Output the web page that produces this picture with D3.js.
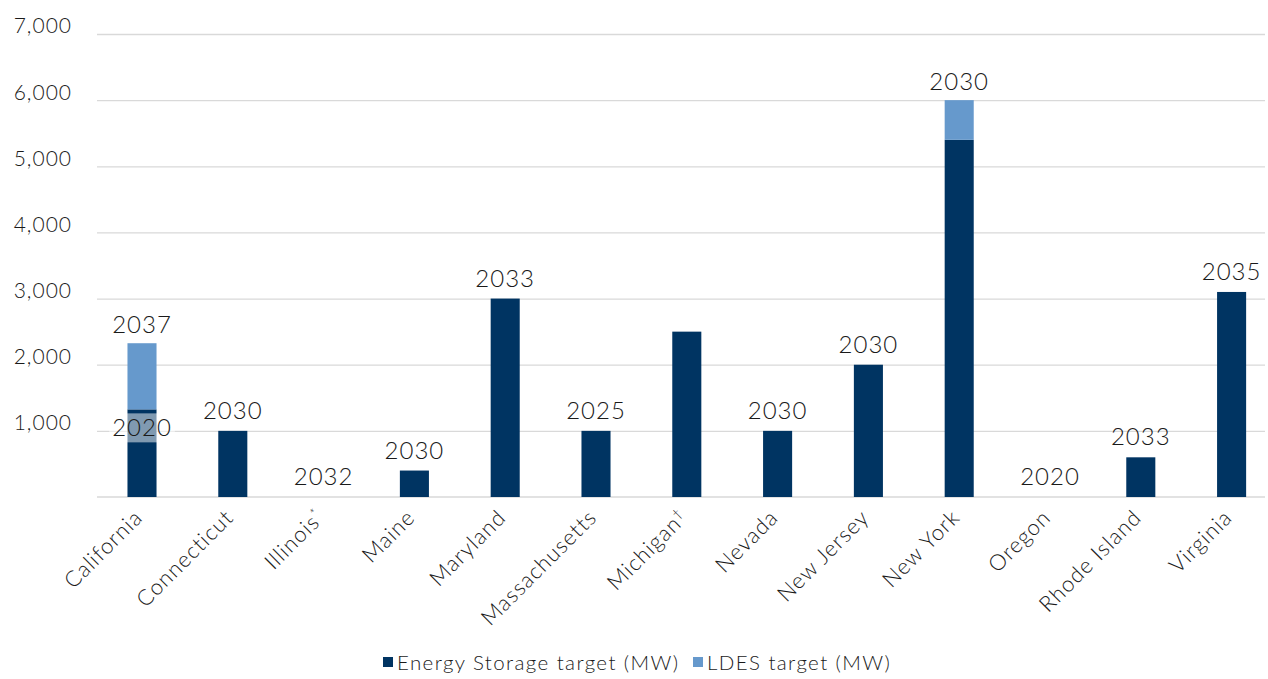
<!DOCTYPE html>
<html>
<head>
<meta charset="utf-8">
<script src="https://cdn.jsdelivr.net/npm/d3@7"></script>
<style>
  body { margin: 0; background: #fff; }
  text { font-family: Lato, "Open Sans", sans-serif; font-weight: 300; fill: #1a1a1a; }
</style>
</head>
<body>
<div id="container"></div>
<script>
/* CONSTANTS AND GLOBALS */
const width = 1268,
  height = 679,
  margin = { top: 34, bottom: 182, left: 97, right: 3 };

/* DATA */
const states = ["California", "Connecticut", "Illinois", "Maine", "Maryland", "Massachusetts",
  "Michigan", "Nevada", "New Jersey", "New York", "Oregon", "Rhode Island", "Virginia"];
const marks = ["", "", "*", "", "", "", "\u2020", "", "", "", "", "", ""];
const storageMW = [1325, 1000, 0, 400, 3000, 1000, 2500, 1000, 2000, 5400, 0, 600, 3100];
const ldesMW = [1000, 0, 0, 0, 0, 0, 0, 0, 0, 600, 0, 0, 0];
const storageYear = ["2020", "2030", "2032", "2030", "2033", "2025", "", "2030", "2030", "", "2020", "2033", "2035"];
const ldesYear = ["2037", "", "", "", "", "", "", "", "", "2030", "", "", ""];
const yTicks = [1000, 2000, 3000, 4000, 5000, 6000, 7000];
const seriesNames = ["Energy Storage target (MW)", "LDES target (MW)"];
const colors = ["#003462", "#6699cc"];

const rows = states.map((s, i) => ({
  state: s, mark: marks[i], storage: storageMW[i], ldes: ldesMW[i],
  sYear: storageYear[i], lYear: ldesYear[i]
}));

// SCALES
const xScale = d3.scaleBand()
  .domain(states)
  .range([96.6, 96.6 + 13 * 90.8])
  .paddingInner(0.68)
  .paddingOuter(0.34);

const yScale = d3.scaleLinear()
  .domain([0, 7000])
  .range([height - margin.bottom, margin.top]);

// CREATE SVG ELEMENT
const svg = d3.select("#container")
  .append("svg")
  .attr("width", width)
  .attr("height", height);

// GRID + Y AXIS
const yAxis = d3.axisLeft(yScale)
  .tickValues(yTicks)
  .tickSize(-(width - margin.right - margin.left))
  .tickFormat(d3.format(","));

const yAxisGroup = svg.append("g")
  .attr("class", "yAxis")
  .attr("transform", `translate(${margin.left}, 0)`)
  .call(yAxis);
yAxisGroup.select(".domain").remove();
yAxisGroup.selectAll("line").attr("stroke", "#d9d9d9").attr("stroke-width", 1.3);
yAxisGroup.selectAll("text")
  .attr("x", -25)
  .attr("dy", "-0.05em")
  .style("font-size", "21px")
  .style("letter-spacing", "1px")
  .style("font-family", "Lato, sans-serif")
  .style("fill", "#1a1a1a");

// baseline
svg.append("line")
  .attr("x1", margin.left).attr("x2", width - margin.right)
  .attr("y1", yScale(0)).attr("y2", yScale(0))
  .attr("stroke", "#d9d9d9").attr("stroke-width", 1.5);

// BARS
const stack = d3.stack().keys(["storage", "ldes"])(rows);
svg.selectAll(".series")
  .data(stack)
  .join("g")
  .attr("class", "series")
  .attr("fill", (d, i) => colors[i])
  .selectAll("rect")
  .data(d => d)
  .join("rect")
  .attr("x", d => xScale(d.data.state))
  .attr("width", xScale.bandwidth())
  .attr("y", d => yScale(d[1]))
  .attr("height", d => yScale(d[0]) - yScale(d[1]));

// YEAR LABELS
const labelSize = 24;
const yearText = (x, y) => svg.append("text")
  .attr("x", x).attr("y", y)
  .attr("text-anchor", "middle")
  .style("font-size", labelSize + "px")
  .style("letter-spacing", "1px");

rows.forEach(d => {
  const cx = xScale(d.state) + xScale.bandwidth() / 2;
  if (d.ldes > 0 && d.lYear) {
    yearText(cx, yScale(d.storage + d.ldes) - 10).text(d.lYear);
  }
  if (d.sYear) {
    if (d.ldes > 0) {
      // label sits inside the stacked bar with a translucent box
      const cy = yScale(d.storage) + 18;
      const t = yearText(cx, cy).attr("dy", "0.35em").text(d.sYear);
      const bb = t.node().getBBox();
      svg.insert("rect", () => t.node())
        .attr("x", bb.x - 3).attr("y", cy - 14)
        .attr("width", bb.width + 6).attr("height", 29)
        .attr("fill", "#fff").attr("fill-opacity", 0.5);
    } else {
      yearText(cx, yScale(d.storage) - 12).text(d.sYear);
    }
  }
});

// X LABELS
const xLabels = svg.append("g").attr("class", "xLabels");
rows.forEach(d => {
  const cx = xScale(d.state) + xScale.bandwidth() / 2 + 2;
  const t = xLabels.append("text")
    .attr("transform", `translate(${cx}, ${yScale(0) + 22}) rotate(-45)`)
    .attr("text-anchor", "end")
    .style("font-size", "22px")
    .style("letter-spacing", "1px");
  t.append("tspan").text(d.state);
  if (d.mark) {
    t.append("tspan")
      .attr("dy", "-0.6em")
      .style("font-size", "13px")
      .text(d.mark);
  }
});

// LEGEND
const legendX = [383, 693];
const legend = svg.append("g").attr("class", "legend");
seriesNames.forEach((name, i) => {
  legend.append("rect")
    .attr("x", legendX[i]).attr("y", 657)
    .attr("width", 10).attr("height", 10)
    .attr("fill", colors[i]);
  legend.append("text")
    .attr("x", legendX[i] + 14).attr("y", 670)
    .style("font-size", "20.5px")
    .style("letter-spacing", "1.4px")
    .text(name);
});
</script>
</body>
</html>
